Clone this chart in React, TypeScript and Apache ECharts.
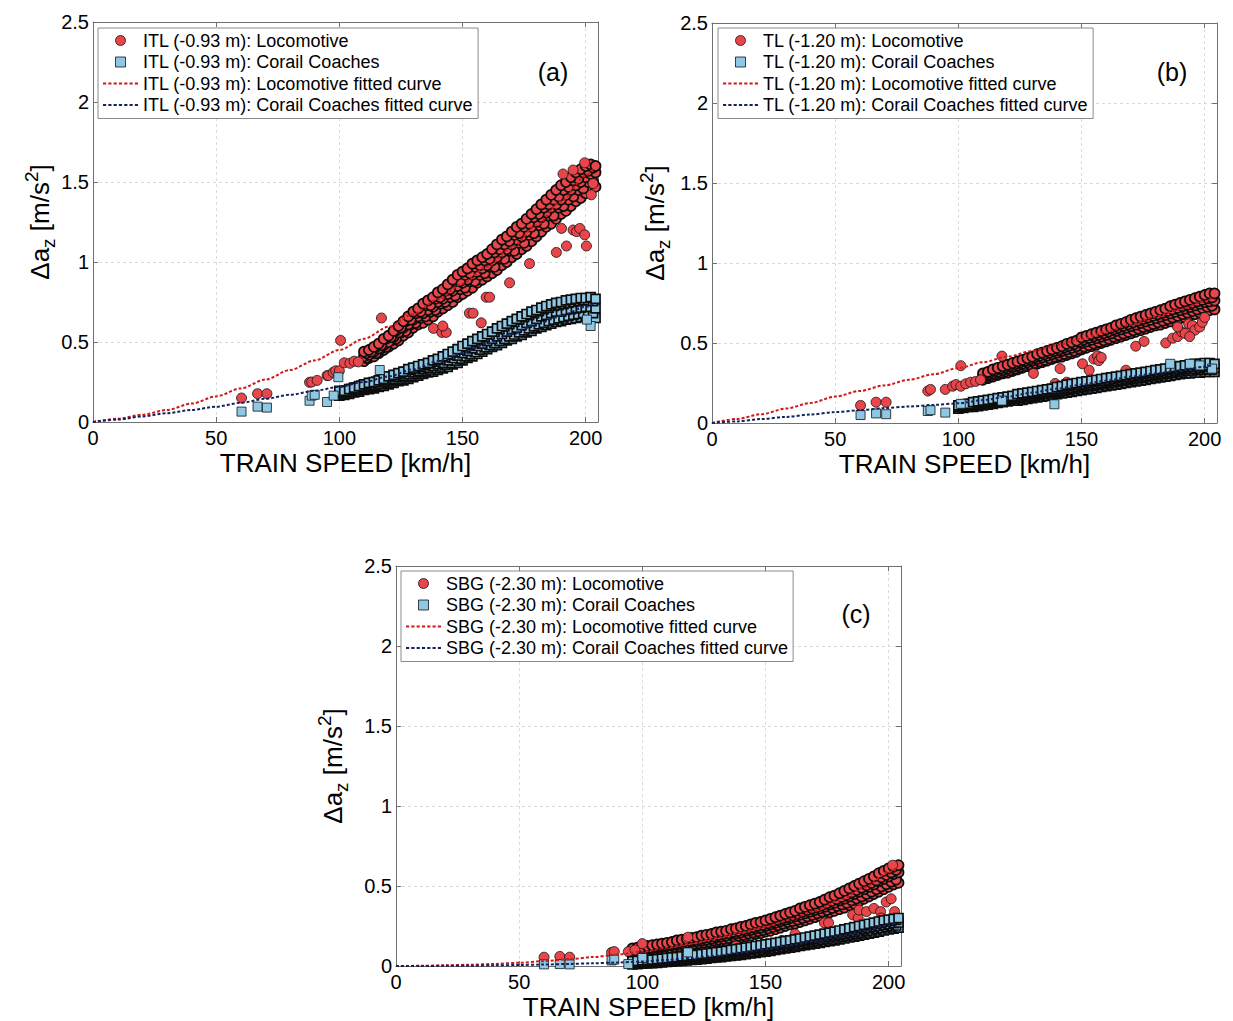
import React, { useEffect, useRef } from 'react';
import * as echarts from 'echarts';

const FONT = '"Liberation Sans", Arial, Helvetica, sans-serif';

// ---------- fitted curves (km/h -> m/s^2) ----------
const fitSpeeds = [0, 10, 20, 30, 40, 50, 60, 70, 80, 90, 100, 110, 120, 130, 140, 150, 160, 170, 180, 190, 200, 203];
const fitA_loco = [0, 0.02, 0.045, 0.075, 0.115, 0.16, 0.21, 0.265, 0.325, 0.385, 0.45, 0.52, 0.595, 0.675, 0.765, 0.865, 0.97, 1.09, 1.23, 1.38, 1.54, 1.58];
const fitA_coach = [0, 0.015, 0.035, 0.055, 0.075, 0.096, 0.12, 0.145, 0.17, 0.195, 0.22, 0.25, 0.285, 0.33, 0.38, 0.43, 0.49, 0.55, 0.61, 0.665, 0.72, 0.74];
const fitB_loco = [0, 0.025, 0.055, 0.09, 0.125, 0.165, 0.2, 0.235, 0.27, 0.305, 0.343, 0.38, 0.415, 0.45, 0.487, 0.525, 0.57, 0.615, 0.665, 0.71, 0.76, 0.78];
const fitB_coach = [0, 0.01, 0.025, 0.038, 0.053, 0.068, 0.08, 0.093, 0.103, 0.113, 0.123, 0.143, 0.165, 0.19, 0.215, 0.24, 0.265, 0.29, 0.31, 0.33, 0.352, 0.36];
const fitC_loco = [0, 0.001, 0.004, 0.008, 0.013, 0.02, 0.03, 0.042, 0.056, 0.072, 0.09, 0.115, 0.14, 0.175, 0.21, 0.245, 0.29, 0.345, 0.41, 0.49, 0.585, 0.61];
const fitC_coach = [0, 0, 0.001, 0.002, 0.004, 0.006, 0.009, 0.013, 0.017, 0.022, 0.028, 0.038, 0.05, 0.065, 0.085, 0.105, 0.13, 0.155, 0.185, 0.22, 0.255, 0.27];

// ---------- measured point clouds: speeds ----------
const spd110 = [110, 112, 114, 116, 118, 120, 122, 124, 126, 128, 130, 132, 134, 136, 138, 140, 142, 144, 146, 148, 150, 152, 154, 156, 158, 160, 162, 164, 166, 168, 170, 172, 174, 176, 178, 180, 182, 184, 186, 188, 190, 192, 194, 196, 198, 200, 202, 204];
const spd111 = [111, 113, 115, 117, 119, 121, 123, 125, 127, 129, 131, 133, 135, 137, 139, 141, 143, 145, 147, 149, 151, 153, 155, 157, 159, 161, 163, 165, 167, 169, 171, 173, 175, 177, 179, 181, 183, 185, 187, 189, 191, 193, 195, 197, 199, 201, 203];
const spd100 = [100, 102, 104, 106, 108, 110, 112, 114, 116, 118, 120, 122, 124, 126, 128, 130, 132, 134, 136, 138, 140, 142, 144, 146, 148, 150, 152, 154, 156, 158, 160, 162, 164, 166, 168, 170, 172, 174, 176, 178, 180, 182, 184, 186, 188, 190, 192, 194, 196, 198, 200, 202, 204];
const spd101 = [101, 103, 105, 107, 109, 111, 113, 115, 117, 119, 121, 123, 125, 127, 129, 131, 133, 135, 137, 139, 141, 143, 145, 147, 149, 151, 153, 155, 157, 159, 161, 163, 165, 167, 169, 171, 173, 175, 177, 179, 181, 183, 185, 187, 189, 191, 193, 195, 197, 199, 201, 203];
const spd96 = [96, 98, 100, 102, 104, 106, 108, 110, 112, 114, 116, 118, 120, 122, 124, 126, 128, 130, 132, 134, 136, 138, 140, 142, 144, 146, 148, 150, 152, 154, 156, 158, 160, 162, 164, 166, 168, 170, 172, 174, 176, 178, 180, 182, 184, 186, 188, 190, 192, 194, 196, 198, 200, 202, 204];
const spd97 = [97, 99, 101, 103, 105, 107, 109, 111, 113, 115, 117, 119, 121, 123, 125, 127, 129, 131, 133, 135, 137, 139, 141, 143, 145, 147, 149, 151, 153, 155, 157, 159, 161, 163, 165, 167, 169, 171, 173, 175, 177, 179, 181, 183, 185, 187, 189, 191, 193, 195, 197, 199, 201, 203];

// ---------- (a) ITL ----------
const locoA_lo = [0.38, 0.40, 0.41, 0.43, 0.45, 0.47, 0.49, 0.51, 0.54, 0.56, 0.59, 0.61, 0.62, 0.64, 0.66, 0.69, 0.71, 0.73, 0.75, 0.78, 0.80, 0.82, 0.84, 0.87, 0.89, 0.91, 0.93, 0.95, 0.98, 1.00, 1.03, 1.05, 1.08, 1.10, 1.13, 1.16, 1.19, 1.22, 1.24, 1.27, 1.30, 1.32, 1.35, 1.38, 1.40, 1.43, 1.45, 1.47];
const locoA_mid = [0.41, 0.42, 0.44, 0.46, 0.48, 0.50, 0.53, 0.56, 0.59, 0.61, 0.64, 0.66, 0.68, 0.70, 0.72, 0.75, 0.77, 0.80, 0.82, 0.85, 0.87, 0.89, 0.92, 0.94, 0.96, 0.98, 1.01, 1.03, 1.06, 1.08, 1.11, 1.14, 1.16, 1.19, 1.22, 1.25, 1.28, 1.31, 1.34, 1.36, 1.39, 1.42, 1.45, 1.48, 1.50, 1.53, 1.55, 1.56];
const locoA_hi = [0.44, 0.45, 0.47, 0.49, 0.52, 0.54, 0.57, 0.60, 0.63, 0.66, 0.69, 0.71, 0.74, 0.76, 0.78, 0.81, 0.83, 0.86, 0.89, 0.92, 0.94, 0.96, 0.99, 1.01, 1.03, 1.05, 1.08, 1.11, 1.14, 1.16, 1.19, 1.22, 1.24, 1.27, 1.30, 1.33, 1.36, 1.39, 1.42, 1.45, 1.48, 1.50, 1.53, 1.56, 1.58, 1.60, 1.61, 1.60];
const locoA_q1 = [0.40, 0.43, 0.43, 0.46, 0.47, 0.51, 0.52, 0.56, 0.57, 0.61, 0.62, 0.65, 0.66, 0.69, 0.70, 0.74, 0.75, 0.78, 0.79, 0.83, 0.84, 0.88, 0.88, 0.92, 0.93, 0.97, 0.97, 1.02, 1.02, 1.07, 1.07, 1.12, 1.12, 1.17, 1.18, 1.23, 1.24, 1.29, 1.29, 1.34, 1.35, 1.39, 1.41, 1.45, 1.46, 1.50, 1.50];
const locoA_q3 = [0.43, 0.44, 0.47, 0.48, 0.52, 0.53, 0.57, 0.59, 0.63, 0.64, 0.68, 0.69, 0.73, 0.73, 0.77, 0.78, 0.82, 0.83, 0.88, 0.88, 0.92, 0.93, 0.97, 0.98, 1.01, 1.02, 1.06, 1.08, 1.11, 1.13, 1.17, 1.18, 1.22, 1.24, 1.28, 1.30, 1.34, 1.36, 1.39, 1.41, 1.45, 1.47, 1.51, 1.52, 1.56, 1.57, 1.59];
const locoA_outS = [60.3, 66.8, 70.6, 87.9, 88.8, 91, 95, 95.5, 97.5, 98.5, 100, 100.5, 102, 104.3, 106, 107.7, 117.1, 138.2, 141.6, 143.4, 142, 152.8, 154.3, 157.6, 159.6, 161, 169.1, 177.2, 188.1, 190.2, 192.2, 194.9, 196.3, 197.6, 199.6, 200.3, 190.8, 194.9, 199.6, 203, 202.3];
const locoA_outV = [0.15, 0.177, 0.177, 0.248, 0.25, 0.26, 0.29, 0.29, 0.31, 0.32, 0.32, 0.51, 0.37, 0.367, 0.38, 0.376, 0.65, 0.585, 0.56, 0.56, 0.6, 0.68, 0.68, 0.62, 0.78, 0.78, 0.87, 0.99, 1.06, 1.21, 1.1, 1.2, 1.19, 1.21, 1.17, 1.1, 1.55, 1.575, 1.62, 1.49, 1.42];
const coachA_lo = [0.165, 0.17, 0.175, 0.185, 0.19, 0.20, 0.205, 0.21, 0.22, 0.225, 0.235, 0.245, 0.255, 0.26, 0.27, 0.28, 0.29, 0.30, 0.31, 0.315, 0.325, 0.335, 0.345, 0.36, 0.37, 0.385, 0.40, 0.41, 0.425, 0.44, 0.455, 0.47, 0.48, 0.495, 0.51, 0.52, 0.535, 0.545, 0.56, 0.57, 0.585, 0.595, 0.605, 0.615, 0.625, 0.63, 0.64, 0.645, 0.65, 0.655, 0.66, 0.66, 0.65];
const coachA_mid = [0.18, 0.18, 0.19, 0.20, 0.21, 0.22, 0.225, 0.23, 0.24, 0.25, 0.26, 0.27, 0.28, 0.29, 0.30, 0.31, 0.32, 0.33, 0.34, 0.35, 0.36, 0.37, 0.385, 0.40, 0.415, 0.43, 0.445, 0.46, 0.475, 0.49, 0.505, 0.52, 0.535, 0.55, 0.565, 0.58, 0.59, 0.605, 0.62, 0.63, 0.645, 0.66, 0.67, 0.68, 0.69, 0.69, 0.70, 0.705, 0.71, 0.715, 0.72, 0.72, 0.71];
const coachA_hi = [0.195, 0.195, 0.205, 0.215, 0.225, 0.235, 0.245, 0.25, 0.26, 0.27, 0.285, 0.295, 0.305, 0.315, 0.33, 0.34, 0.35, 0.36, 0.37, 0.385, 0.395, 0.41, 0.425, 0.44, 0.455, 0.475, 0.49, 0.505, 0.52, 0.535, 0.55, 0.565, 0.585, 0.60, 0.615, 0.63, 0.645, 0.66, 0.675, 0.69, 0.70, 0.715, 0.725, 0.735, 0.745, 0.75, 0.76, 0.765, 0.77, 0.775, 0.775, 0.78, 0.77];
const coachA_q1 = [0.172, 0.18, 0.188, 0.197, 0.205, 0.213, 0.22, 0.227, 0.236, 0.245, 0.253, 0.262, 0.27, 0.28, 0.29, 0.30, 0.31, 0.32, 0.328, 0.337, 0.347, 0.358, 0.37, 0.383, 0.396, 0.41, 0.423, 0.437, 0.452, 0.466, 0.48, 0.493, 0.507, 0.52, 0.535, 0.547, 0.56, 0.573, 0.585, 0.598, 0.61, 0.62, 0.63, 0.64, 0.648, 0.655, 0.663, 0.67, 0.675, 0.68, 0.683, 0.68];
const coachA_q3 = [0.19, 0.197, 0.207, 0.217, 0.227, 0.236, 0.243, 0.252, 0.262, 0.272, 0.283, 0.293, 0.303, 0.314, 0.325, 0.335, 0.345, 0.355, 0.366, 0.377, 0.39, 0.405, 0.42, 0.435, 0.452, 0.468, 0.484, 0.5, 0.515, 0.53, 0.547, 0.564, 0.58, 0.597, 0.612, 0.625, 0.64, 0.655, 0.668, 0.68, 0.693, 0.705, 0.715, 0.725, 0.73, 0.737, 0.745, 0.75, 0.755, 0.76, 0.762, 0.755];
const coachA_outS = [60.3, 66.8, 70.6, 87.9, 88.8, 90, 95, 97.7, 99.6, 116.4, 202, 200.5];
const coachA_outV = [0.065, 0.096, 0.09, 0.133, 0.165, 0.17, 0.125, 0.165, 0.28, 0.325, 0.6, 0.64];

// ---------- (b) TL ----------
const locoB_lo = [0.27, 0.28, 0.29, 0.30, 0.31, 0.315, 0.325, 0.335, 0.345, 0.355, 0.36, 0.37, 0.38, 0.39, 0.40, 0.41, 0.415, 0.425, 0.435, 0.445, 0.46, 0.47, 0.48, 0.49, 0.50, 0.51, 0.52, 0.53, 0.54, 0.55, 0.56, 0.57, 0.58, 0.59, 0.60, 0.61, 0.615, 0.625, 0.635, 0.645, 0.655, 0.66, 0.67, 0.68, 0.69, 0.70, 0.705, 0.71];
const locoB_mid = [0.29, 0.30, 0.31, 0.32, 0.33, 0.34, 0.35, 0.36, 0.37, 0.38, 0.39, 0.40, 0.41, 0.42, 0.43, 0.44, 0.45, 0.46, 0.47, 0.48, 0.50, 0.51, 0.52, 0.53, 0.54, 0.55, 0.56, 0.575, 0.585, 0.595, 0.605, 0.615, 0.625, 0.635, 0.645, 0.655, 0.665, 0.675, 0.685, 0.695, 0.705, 0.715, 0.725, 0.735, 0.745, 0.755, 0.76, 0.765];
const locoB_hi = [0.31, 0.32, 0.335, 0.345, 0.355, 0.365, 0.375, 0.385, 0.395, 0.405, 0.415, 0.43, 0.44, 0.45, 0.46, 0.47, 0.48, 0.495, 0.505, 0.515, 0.535, 0.545, 0.555, 0.565, 0.575, 0.585, 0.595, 0.61, 0.62, 0.63, 0.645, 0.655, 0.665, 0.675, 0.685, 0.695, 0.705, 0.715, 0.73, 0.74, 0.75, 0.76, 0.77, 0.78, 0.79, 0.80, 0.81, 0.81];
const locoB_q1 = [0.285, 0.295, 0.305, 0.315, 0.322, 0.33, 0.34, 0.35, 0.36, 0.367, 0.375, 0.385, 0.395, 0.405, 0.415, 0.423, 0.432, 0.442, 0.452, 0.465, 0.477, 0.487, 0.497, 0.507, 0.517, 0.527, 0.54, 0.55, 0.56, 0.57, 0.58, 0.59, 0.60, 0.61, 0.62, 0.63, 0.64, 0.65, 0.66, 0.67, 0.68, 0.69, 0.70, 0.71, 0.72, 0.727, 0.733];
const locoB_q3 = [0.305, 0.318, 0.328, 0.338, 0.348, 0.358, 0.368, 0.378, 0.388, 0.398, 0.41, 0.42, 0.43, 0.44, 0.45, 0.46, 0.472, 0.483, 0.493, 0.507, 0.522, 0.532, 0.542, 0.552, 0.562, 0.572, 0.585, 0.597, 0.607, 0.617, 0.63, 0.64, 0.65, 0.66, 0.67, 0.68, 0.69, 0.70, 0.71, 0.72, 0.73, 0.74, 0.75, 0.76, 0.77, 0.78, 0.785];
const locoB_outS = [60.3, 66.6, 70.7, 87.6, 88.7, 94.7, 97.7, 99, 101, 101, 103, 105, 107, 109, 117.7, 130.5, 139.3, 141.3, 144, 150.4, 153.1, 155, 156.5, 157, 158, 168, 172, 175.4, 184.2, 187, 189, 190.6, 192, 193.5, 195, 196, 193.9, 198, 199, 200, 189];
const locoB_outV = [0.11, 0.13, 0.13, 0.2, 0.21, 0.21, 0.23, 0.24, 0.23, 0.358, 0.245, 0.255, 0.26, 0.27, 0.418, 0.31, 0.247, 0.34, 0.255, 0.37, 0.33, 0.4, 0.42, 0.39, 0.41, 0.33, 0.48, 0.51, 0.5, 0.53, 0.54, 0.57, 0.56, 0.62, 0.61, 0.58, 0.54, 0.6, 0.63, 0.66, 0.6];
const coachB_lo = [0.09, 0.095, 0.1, 0.1, 0.105, 0.11, 0.115, 0.12, 0.125, 0.13, 0.135, 0.14, 0.14, 0.145, 0.15, 0.155, 0.16, 0.165, 0.17, 0.175, 0.18, 0.185, 0.19, 0.195, 0.2, 0.205, 0.21, 0.215, 0.22, 0.225, 0.23, 0.235, 0.24, 0.245, 0.25, 0.255, 0.26, 0.265, 0.27, 0.275, 0.28, 0.285, 0.29, 0.295, 0.3, 0.305, 0.31, 0.31, 0.315, 0.315, 0.32, 0.32, 0.32];
const coachB_mid = [0.10, 0.105, 0.11, 0.115, 0.12, 0.125, 0.13, 0.135, 0.14, 0.145, 0.15, 0.155, 0.16, 0.165, 0.17, 0.175, 0.18, 0.185, 0.19, 0.195, 0.20, 0.21, 0.215, 0.22, 0.225, 0.23, 0.235, 0.24, 0.245, 0.25, 0.255, 0.26, 0.265, 0.27, 0.275, 0.28, 0.285, 0.29, 0.295, 0.30, 0.305, 0.31, 0.315, 0.32, 0.325, 0.33, 0.335, 0.34, 0.34, 0.345, 0.35, 0.35, 0.345];
const coachB_hi = [0.11, 0.115, 0.12, 0.13, 0.135, 0.14, 0.145, 0.15, 0.155, 0.16, 0.165, 0.17, 0.18, 0.185, 0.19, 0.195, 0.2, 0.205, 0.21, 0.215, 0.225, 0.23, 0.24, 0.245, 0.25, 0.255, 0.26, 0.265, 0.27, 0.275, 0.28, 0.285, 0.29, 0.295, 0.3, 0.305, 0.31, 0.315, 0.32, 0.325, 0.33, 0.335, 0.34, 0.345, 0.35, 0.355, 0.36, 0.365, 0.37, 0.37, 0.375, 0.375, 0.37];
const coachB_q1 = [0.1, 0.105, 0.108, 0.113, 0.118, 0.123, 0.128, 0.133, 0.138, 0.143, 0.148, 0.15, 0.155, 0.16, 0.165, 0.17, 0.175, 0.18, 0.185, 0.19, 0.196, 0.202, 0.207, 0.212, 0.218, 0.223, 0.228, 0.233, 0.238, 0.243, 0.248, 0.253, 0.258, 0.263, 0.268, 0.273, 0.278, 0.283, 0.288, 0.293, 0.298, 0.303, 0.308, 0.313, 0.318, 0.322, 0.325, 0.328, 0.33, 0.333, 0.335, 0.333];
const coachB_q3 = [0.108, 0.113, 0.12, 0.125, 0.13, 0.135, 0.14, 0.145, 0.15, 0.155, 0.16, 0.165, 0.172, 0.177, 0.182, 0.187, 0.192, 0.197, 0.202, 0.207, 0.215, 0.222, 0.23, 0.235, 0.24, 0.245, 0.25, 0.255, 0.26, 0.265, 0.27, 0.275, 0.28, 0.285, 0.29, 0.295, 0.3, 0.305, 0.31, 0.315, 0.32, 0.325, 0.33, 0.335, 0.34, 0.345, 0.35, 0.353, 0.355, 0.358, 0.36, 0.358];
const coachB_outS = [60.3, 66.6, 70.7, 87.6, 88.7, 94.7, 101, 117.7, 139, 186, 194, 198, 203];
const coachB_outV = [0.05, 0.06, 0.055, 0.075, 0.08, 0.065, 0.12, 0.14, 0.117, 0.37, 0.37, 0.36, 0.34];

// ---------- (c) SBG ----------
const locoC_lo = [0.07, 0.075, 0.08, 0.085, 0.09, 0.095, 0.10, 0.10, 0.105, 0.11, 0.115, 0.12, 0.125, 0.13, 0.135, 0.14, 0.145, 0.15, 0.155, 0.16, 0.17, 0.175, 0.18, 0.185, 0.19, 0.20, 0.205, 0.215, 0.22, 0.23, 0.24, 0.25, 0.26, 0.265, 0.275, 0.285, 0.295, 0.305, 0.315, 0.325, 0.335, 0.345, 0.355, 0.365, 0.38, 0.39, 0.405, 0.42, 0.435, 0.45, 0.465, 0.48, 0.495, 0.51, 0.52];
const locoC_mid = [0.09, 0.095, 0.10, 0.105, 0.11, 0.115, 0.12, 0.125, 0.13, 0.135, 0.14, 0.145, 0.15, 0.155, 0.16, 0.165, 0.17, 0.18, 0.185, 0.19, 0.20, 0.205, 0.21, 0.22, 0.225, 0.235, 0.24, 0.25, 0.26, 0.27, 0.28, 0.29, 0.30, 0.31, 0.32, 0.33, 0.34, 0.35, 0.36, 0.37, 0.385, 0.395, 0.41, 0.42, 0.435, 0.45, 0.465, 0.48, 0.495, 0.51, 0.53, 0.545, 0.56, 0.575, 0.585];
const locoC_hi = [0.11, 0.115, 0.12, 0.125, 0.13, 0.135, 0.14, 0.145, 0.15, 0.16, 0.165, 0.17, 0.175, 0.18, 0.19, 0.195, 0.20, 0.21, 0.215, 0.22, 0.23, 0.235, 0.245, 0.25, 0.26, 0.27, 0.275, 0.285, 0.295, 0.305, 0.315, 0.325, 0.335, 0.345, 0.36, 0.37, 0.38, 0.39, 0.40, 0.415, 0.43, 0.44, 0.455, 0.47, 0.485, 0.50, 0.515, 0.53, 0.545, 0.56, 0.58, 0.595, 0.61, 0.62, 0.63];
const locoC_q1 = [0.08, 0.085, 0.09, 0.095, 0.1, 0.105, 0.11, 0.113, 0.118, 0.123, 0.128, 0.133, 0.138, 0.143, 0.148, 0.153, 0.16, 0.166, 0.17, 0.175, 0.185, 0.19, 0.195, 0.203, 0.21, 0.218, 0.225, 0.235, 0.245, 0.255, 0.265, 0.275, 0.282, 0.29, 0.3, 0.31, 0.32, 0.33, 0.34, 0.35, 0.363, 0.375, 0.385, 0.395, 0.41, 0.422, 0.435, 0.45, 0.465, 0.48, 0.497, 0.512, 0.527, 0.54];
const locoC_q3 = [0.1, 0.105, 0.11, 0.115, 0.12, 0.125, 0.13, 0.135, 0.14, 0.148, 0.153, 0.158, 0.163, 0.168, 0.175, 0.18, 0.185, 0.195, 0.2, 0.205, 0.215, 0.22, 0.228, 0.235, 0.243, 0.252, 0.258, 0.268, 0.278, 0.288, 0.298, 0.308, 0.318, 0.328, 0.34, 0.35, 0.36, 0.37, 0.38, 0.392, 0.407, 0.418, 0.432, 0.445, 0.46, 0.475, 0.49, 0.505, 0.52, 0.535, 0.555, 0.57, 0.585, 0.6];
const locoC_outS = [60.1, 66.5, 70.5, 87.5, 88.6, 94.3, 97, 100, 118.5, 138, 156.7, 162, 173.9, 175.6, 185.4, 187.6, 188, 191, 194, 196.7, 196.9, 202.4, 201.6, 199, 201];
const locoC_outV = [0.055, 0.06, 0.055, 0.085, 0.09, 0.09, 0.1, 0.14, 0.18, 0.125, 0.16, 0.2, 0.27, 0.27, 0.32, 0.3, 0.35, 0.34, 0.36, 0.34, 0.3, 0.34, 0.63, 0.4, 0.42];
const coachC_lo = [0.01, 0.012, 0.014, 0.016, 0.018, 0.02, 0.022, 0.025, 0.027, 0.03, 0.032, 0.035, 0.038, 0.04, 0.043, 0.046, 0.05, 0.053, 0.056, 0.06, 0.063, 0.067, 0.07, 0.074, 0.078, 0.082, 0.086, 0.09, 0.095, 0.1, 0.105, 0.11, 0.115, 0.12, 0.125, 0.13, 0.135, 0.14, 0.145, 0.15, 0.155, 0.16, 0.166, 0.172, 0.178, 0.184, 0.19, 0.196, 0.202, 0.208, 0.215, 0.222, 0.228, 0.234, 0.24];
const coachC_mid = [0.02, 0.022, 0.025, 0.027, 0.03, 0.032, 0.035, 0.038, 0.04, 0.043, 0.046, 0.05, 0.053, 0.056, 0.06, 0.063, 0.067, 0.07, 0.074, 0.078, 0.082, 0.086, 0.09, 0.095, 0.1, 0.105, 0.11, 0.115, 0.12, 0.125, 0.13, 0.135, 0.14, 0.145, 0.15, 0.155, 0.16, 0.166, 0.172, 0.178, 0.184, 0.19, 0.196, 0.202, 0.208, 0.215, 0.222, 0.229, 0.236, 0.243, 0.25, 0.256, 0.262, 0.268, 0.272];
const coachC_hi = [0.03, 0.032, 0.035, 0.038, 0.04, 0.043, 0.046, 0.05, 0.053, 0.056, 0.06, 0.063, 0.067, 0.07, 0.074, 0.078, 0.082, 0.086, 0.09, 0.095, 0.1, 0.105, 0.11, 0.115, 0.12, 0.125, 0.13, 0.135, 0.14, 0.145, 0.15, 0.155, 0.16, 0.166, 0.172, 0.178, 0.184, 0.19, 0.196, 0.202, 0.208, 0.215, 0.222, 0.229, 0.236, 0.243, 0.25, 0.257, 0.264, 0.271, 0.278, 0.285, 0.29, 0.295, 0.30];
const coachC_q1 = [0.015, 0.017, 0.02, 0.022, 0.025, 0.027, 0.03, 0.032, 0.035, 0.038, 0.041, 0.044, 0.047, 0.05, 0.053, 0.056, 0.06, 0.063, 0.066, 0.07, 0.073, 0.077, 0.081, 0.085, 0.089, 0.094, 0.099, 0.104, 0.109, 0.114, 0.119, 0.124, 0.129, 0.134, 0.139, 0.144, 0.149, 0.155, 0.161, 0.166, 0.172, 0.178, 0.184, 0.19, 0.196, 0.202, 0.209, 0.216, 0.222, 0.229, 0.236, 0.242, 0.248, 0.253];
const coachC_q3 = [0.025, 0.028, 0.031, 0.034, 0.036, 0.039, 0.042, 0.045, 0.048, 0.051, 0.055, 0.058, 0.061, 0.065, 0.068, 0.072, 0.076, 0.08, 0.084, 0.088, 0.093, 0.097, 0.102, 0.107, 0.112, 0.117, 0.122, 0.127, 0.132, 0.137, 0.142, 0.147, 0.152, 0.158, 0.164, 0.17, 0.176, 0.182, 0.188, 0.194, 0.2, 0.207, 0.214, 0.221, 0.228, 0.235, 0.242, 0.249, 0.256, 0.263, 0.27, 0.277, 0.283, 0.288];
const coachC_outS = [60.1, 66.5, 70.5, 87.5, 88.6, 94.3, 100, 118.5];
const coachC_outV = [0.01, 0.012, 0.01, 0.035, 0.04, 0.012, 0.05, 0.085];

// ---------- axis ticks ----------
const xMin = 0, xMax = 205, xStep = 50;
const yMin = 0, yMax = 2.5, yStep = 0.5;

const pts = (s: number[], v: number[]) => {
  const out: number[][] = [];
  const n = Math.min(s.length, v.length);
  for (let k = 0; k < n; k++) out.push([s[k], v[k]]);
  return out;
};

const AX = '#707070';
const GRIDC = '#dadada';
const RED = '#e8464a';
const BLUE = '#8ec8e4';
const RED_LINE = '#d01818';
const NAVY_LINE = '#14225e';
const DASH_ICON = 'path://M0,0h3v2h-3z M5,0h3v2h-3z M10,0h3v2h-3z M15,0h3v2h-3z M20,0h3v2h-3z M25,0h3v2h-3z M30,0h3v2h-3z';

// points inside the dense cloud: heavier outline so the stacked markers read dark, as in the source
const dense = (list: number[][]) => list.map((v) => ({ value: v, itemStyle: { borderWidth: 1.7, borderColor: '#0d0d0d' } }));

const panels = [
  {
    tag: 'ITL (-0.93 m)', letter: '(a)',
    grid: { left: 93, top: 22, width: 505, height: 400 },
    legend: { left: 98, top: 28 }, letterPos: [553, 72], yNamePos: [40, 222],
    locoDense: [...pts(spd110, locoA_lo), ...pts(spd111, locoA_q1), ...pts(spd110, locoA_mid), ...pts(spd111, locoA_q3), ...pts(spd110, locoA_hi)],
    locoOut: pts(locoA_outS, locoA_outV),
    coachDense: [...pts(spd100, coachA_lo), ...pts(spd101, coachA_q1), ...pts(spd100, coachA_mid), ...pts(spd101, coachA_q3), ...pts(spd100, coachA_hi)],
    coachOut: pts(coachA_outS, coachA_outV),
    fitLoco: pts(fitSpeeds, fitA_loco), fitCoach: pts(fitSpeeds, fitA_coach),
  },
  {
    tag: 'TL (-1.20 m)', letter: '(b)',
    grid: { left: 712, top: 23, width: 505, height: 400 },
    legend: { left: 718, top: 28 }, letterPos: [1172, 72], yNamePos: [655, 223],
    locoDense: [...pts(spd110, locoB_lo), ...pts(spd111, locoB_q1), ...pts(spd110, locoB_mid), ...pts(spd111, locoB_q3), ...pts(spd110, locoB_hi)],
    locoOut: pts(locoB_outS, locoB_outV),
    coachDense: [...pts(spd100, coachB_lo), ...pts(spd101, coachB_q1), ...pts(spd100, coachB_mid), ...pts(spd101, coachB_q3), ...pts(spd100, coachB_hi)],
    coachOut: pts(coachB_outS, coachB_outV),
    fitLoco: pts(fitSpeeds, fitB_loco), fitCoach: pts(fitSpeeds, fitB_coach),
  },
  {
    tag: 'SBG (-2.30 m)', letter: '(c)',
    grid: { left: 396, top: 566, width: 505, height: 400 },
    legend: { left: 401, top: 571 }, letterPos: [856, 614], yNamePos: [333, 766],
    locoDense: [...pts(spd96, locoC_lo), ...pts(spd97, locoC_q1), ...pts(spd96, locoC_mid), ...pts(spd97, locoC_q3), ...pts(spd96, locoC_hi)],
    locoOut: pts(locoC_outS, locoC_outV),
    coachDense: [...pts(spd96, coachC_lo), ...pts(spd97, coachC_q1), ...pts(spd96, coachC_mid), ...pts(spd97, coachC_q3), ...pts(spd96, coachC_hi)],
    coachOut: pts(coachC_outS, coachC_outV),
    fitLoco: pts(fitSpeeds, fitC_loco), fitCoach: pts(fitSpeeds, fitC_coach),
  },
];

function buildOption() {
  const grid: any[] = [];
  const xAxis: any[] = [];
  const yAxis: any[] = [];
  const series: any[] = [];
  const legend: any[] = [];
  const graphic: any[] = [];

  panels.forEach((p, i) => {
    grid.push({ ...p.grid, containLabel: false });
    const baseX = {
      gridIndex: i, type: 'value', min: xMin, max: xMax, interval: xStep,
      axisLine: { show: true, onZero: false, lineStyle: { color: AX, width: 1 } },
      axisTick: { show: true, inside: true, length: 5, lineStyle: { color: AX } },
    };
    const baseY = {
      gridIndex: i, type: 'value', min: yMin, max: yMax, interval: yStep,
      axisLine: { show: true, onZero: false, lineStyle: { color: AX, width: 1 } },
      axisTick: { show: true, inside: true, length: 5, lineStyle: { color: AX } },
    };
    xAxis.push({
      ...baseX, position: 'bottom',
      axisLabel: {
        show: true, fontSize: 20, color: '#000', fontFamily: FONT, margin: 6,
        formatter: (v: number) => (v > 200 ? '' : String(v)),
      },
      splitLine: { show: true, lineStyle: { color: GRIDC, type: [3, 3], width: 1 } },
      name: 'TRAIN SPEED [km/h]', nameLocation: 'middle', nameGap: 28,
      nameTextStyle: { fontSize: 26, color: '#000', fontFamily: FONT },
    });
    xAxis.push({ ...baseX, position: 'top', axisLabel: { show: false }, splitLine: { show: false } });
    yAxis.push({
      ...baseY, position: 'left',
      axisLabel: { show: true, fontSize: 20, color: '#000', fontFamily: FONT, margin: 4 },
      splitLine: { show: true, lineStyle: { color: GRIDC, type: [3, 3], width: 1 } },
    });
    yAxis.push({ ...baseY, position: 'right', axisLabel: { show: false }, splitLine: { show: false } });

    const nLoco = `${p.tag}: Locomotive`;
    const nCoach = `${p.tag}: Corail Coaches`;
    const nFitLoco = `${p.tag}: Locomotive fitted curve`;
    const nFitCoach = `${p.tag}: Corail Coaches fitted curve`;

    series.push({
      type: 'scatter', name: nLoco, xAxisIndex: 2 * i, yAxisIndex: 2 * i,
      symbol: 'circle', symbolSize: 10, z: 2,
      data: [...dense(p.locoDense), ...p.locoOut],
      itemStyle: { color: RED, borderColor: '#111', borderWidth: 0.8, opacity: 1 },
      emphasis: { disabled: true },
    });
    series.push({
      type: 'scatter', name: nCoach, xAxisIndex: 2 * i, yAxisIndex: 2 * i,
      symbol: 'rect', symbolSize: 9, z: 2,
      data: [...dense(p.coachDense), ...p.coachOut],
      itemStyle: { color: BLUE, borderColor: '#111', borderWidth: 0.8, opacity: 1 },
      emphasis: { disabled: true },
    });
    series.push({
      type: 'line', name: nFitLoco, xAxisIndex: 2 * i, yAxisIndex: 2 * i,
      data: p.fitLoco, symbol: 'none', smooth: 0.3, smoothMonotone: 'x', z: 3,
      lineStyle: { color: RED_LINE, width: 2, type: [3, 2] }, itemStyle: { color: RED_LINE },
      emphasis: { disabled: true },
    });
    series.push({
      type: 'line', name: nFitCoach, xAxisIndex: 2 * i, yAxisIndex: 2 * i,
      data: p.fitCoach, symbol: 'none', smooth: 0.3, smoothMonotone: 'x', z: 3,
      lineStyle: { color: NAVY_LINE, width: 2, type: [3, 2] }, itemStyle: { color: NAVY_LINE },
      emphasis: { disabled: true },
    });

    legend.push({
      left: p.legend.left, top: p.legend.top, orient: 'vertical',
      itemWidth: 35, itemHeight: 10, itemGap: 0.5, padding: [2, 5, 3, 5],
      borderColor: '#8a8a8a', borderWidth: 1, backgroundColor: '#ffffff',
      selectedMode: false, z: 10,
      textStyle: { fontSize: 18, fontFamily: FONT, color: '#000', lineHeight: 21 },
      data: [
        { name: nLoco, icon: 'circle', itemStyle: { color: RED, borderWidth: 0.8, borderColor: '#111' } },
        { name: nCoach, icon: 'path://M0,0H10V10H0Z', itemStyle: { color: BLUE, borderWidth: 0.8, borderColor: '#111' } },
        { name: nFitLoco, icon: DASH_ICON, itemStyle: { color: RED_LINE, borderWidth: 0 } },
        { name: nFitCoach, icon: DASH_ICON, itemStyle: { color: NAVY_LINE, borderWidth: 0 } },
      ],
    });

    graphic.push({
      type: 'text', x: p.letterPos[0], y: p.letterPos[1], z: 20,
      style: { text: p.letter, fontSize: 25, fontFamily: FONT, fill: '#000', align: 'center', verticalAlign: 'middle' },
    });
    graphic.push({
      type: 'text', x: p.yNamePos[0], y: p.yNamePos[1], rotation: Math.PI / 2, z: 20,
      style: {
        text: '{m|Δa}{s|z}{m| [m/s}{p|2}{m|]}',
        align: 'center', verticalAlign: 'middle',
        rich: {
          m: { fontSize: 26, fontFamily: FONT, fill: '#000', lineHeight: 36, verticalAlign: 'middle' },
          s: { fontSize: 19, fontFamily: FONT, fill: '#000', lineHeight: 19, verticalAlign: 'bottom' },
          p: { fontSize: 19, fontFamily: FONT, fill: '#000', lineHeight: 19, verticalAlign: 'top' },
        },
      },
    });
  });

  return {
    animation: false,
    backgroundColor: '#ffffff',
    textStyle: { fontFamily: FONT },
    grid, xAxis, yAxis, series, legend, graphic,
  };
}

export default function App() {
  const ref = useRef<HTMLDivElement>(null);
  useEffect(() => {
    if (!ref.current) return;
    const chart = echarts.init(ref.current, undefined, { renderer: 'svg' });
    chart.setOption(buildOption() as any);
    return () => chart.dispose();
  }, []);
  return (
    <div
      ref={ref}
      style={{ position: 'absolute', left: 0, top: 0, width: 1233, height: 1021, background: '#fff' }}
    />
  );
}
